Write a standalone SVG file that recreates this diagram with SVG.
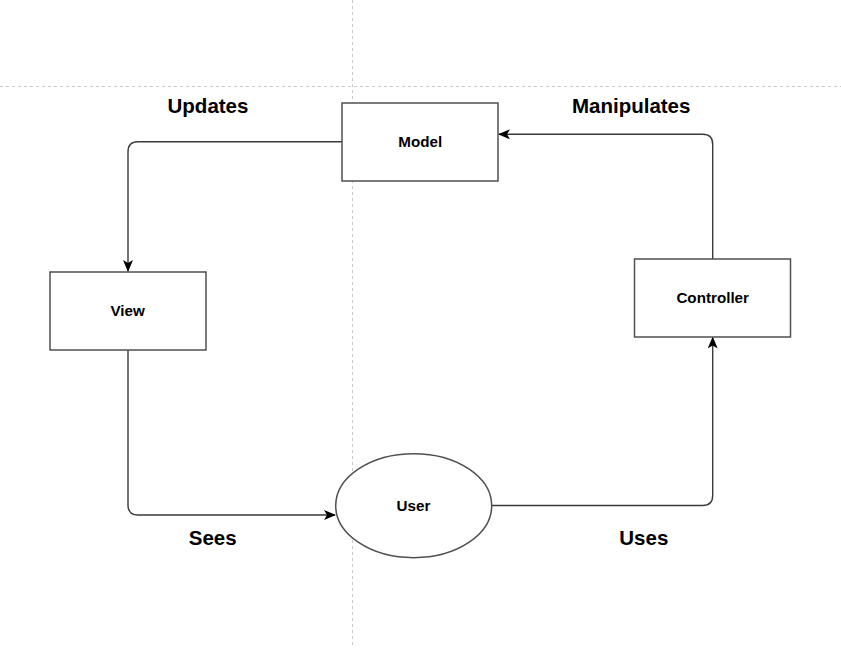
<svg xmlns="http://www.w3.org/2000/svg" width="841" height="648" viewBox="0 0 841 648">
<defs>
<style>
.guide{stroke:#c8c8c8;stroke-width:1;stroke-dasharray:3 3;fill:none}
.node{fill:#fff;stroke:#505050;stroke-width:1.5}
.edge{fill:none;stroke:#3a3a3a;stroke-width:1.4}
.nl{font-family:"Liberation Sans",Arial,sans-serif;font-weight:bold;font-size:15.2px;text-anchor:middle;fill:#000}
.el{font-family:"Liberation Sans",Arial,sans-serif;font-weight:bold;font-size:20.5px;text-anchor:middle;fill:#000}
</style>
<marker id="arr" viewBox="0 0 12 10" refX="11" refY="5" markerWidth="12" markerHeight="10" markerUnits="userSpaceOnUse" orient="auto">
<path d="M0,0 L12,5 L0,10 L3,5 Z" fill="#000"/>
</marker>
</defs>
<rect width="841" height="648" fill="#fff"/>
<g id="guides">
<line class="guide" x1="0" y1="86.5" x2="841" y2="86.5"/>
<line class="guide" x1="352.5" y1="0" x2="352.5" y2="648"/>
</g>
<g id="connectors">
<path class="edge" marker-end="url(#arr)" d="M342,141.7 H138 Q128,141.7 128,151.7 V271"/>
<path class="edge" marker-end="url(#arr)" d="M712.7,259 V144.3 Q712.7,134.3 702.7,134.3 H499"/>
<path class="edge" marker-end="url(#arr)" d="M128,350 V505 Q128,515 138,515 H335"/>
<path class="edge" marker-end="url(#arr)" d="M491.7,505.5 H702.7 Q712.7,505.5 712.7,495.5 V337.5"/>
<text class="el" x="208" y="112.7">Updates</text>
<text class="el" x="631.2" y="112.5">Manipulates</text>
<text class="el" x="212.7" y="545">Sees</text>
<text class="el" x="643.8" y="545">Uses</text>
</g>
<g id="model">
<rect class="node" x="342" y="103" width="156" height="78"/>
<text class="nl" x="420.3" y="146.5">Model</text>
</g>
<g id="view">
<rect class="node" x="50" y="272" width="156" height="78"/>
<text class="nl" x="127.7" y="315.5">View</text>
</g>
<g id="controller">
<rect class="node" x="634.5" y="259" width="156" height="78"/>
<text class="nl" x="712.7" y="302.5">Controller</text>
</g>
<g id="user">
<ellipse class="node" cx="413.7" cy="505.7" rx="78" ry="52" stroke="#222"/>
<text class="nl" x="413.5" y="511">User</text>
</g>
</svg>
